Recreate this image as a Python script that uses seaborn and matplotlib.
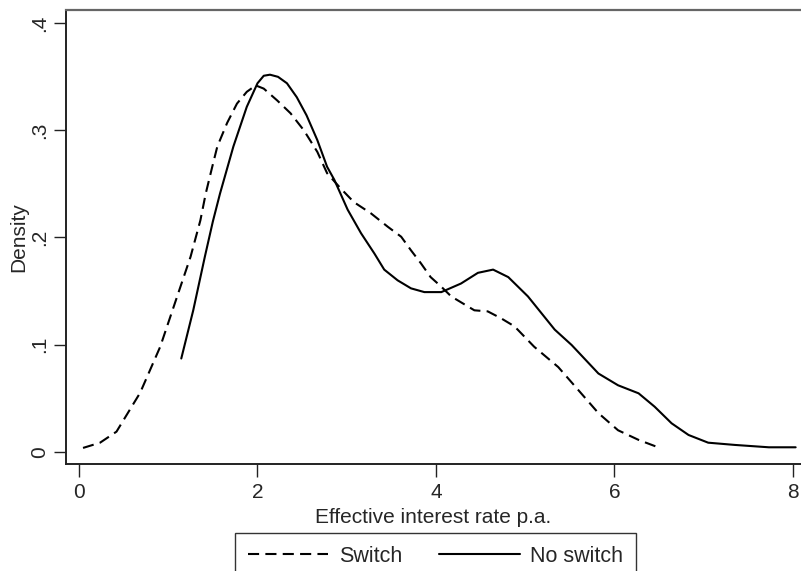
import matplotlib
matplotlib.use("Agg")
import matplotlib.pyplot as plt
import seaborn as sns
import pandas as pd
from matplotlib.lines import Line2D

# ---- data ----
switch_x = [0.045, 0.236, 0.42, 0.685, 0.91, 1.10, 1.25, 1.36, 1.42, 1.49, 1.55, 1.66,
            1.77, 1.88, 1.98, 2.07, 2.22, 2.37, 2.52, 2.67, 2.78, 2.93, 3.08, 3.27,
            3.46, 3.61, 3.72, 3.83, 3.94, 4.06, 4.17, 4.43, 4.58, 4.73, 4.88, 5.10,
            5.37, 5.59, 5.82, 6.04, 6.27, 6.46]
switch_y = [0.0035, 0.0084, 0.0187, 0.055, 0.098, 0.145, 0.182, 0.216, 0.241, 0.265,
            0.285, 0.307, 0.325, 0.336, 0.342, 0.339, 0.328, 0.316, 0.300, 0.280,
            0.260, 0.246, 0.233, 0.2226, 0.210, 0.2007, 0.188, 0.176, 0.163, 0.154,
            0.145, 0.132, 0.131, 0.1245, 0.117, 0.098, 0.079, 0.058, 0.036, 0.020,
            0.011, 0.005]

noswitch_x = [1.146, 1.28, 1.41, 1.50, 1.58, 1.73, 1.88, 2.00, 2.07, 2.14, 2.23, 2.33,
              2.44, 2.55, 2.67, 2.78, 2.86, 3.01, 3.16, 3.31, 3.42, 3.57, 3.72, 3.87,
              4.06, 4.28, 4.47, 4.64, 4.81, 5.03, 5.33, 5.52, 5.82, 6.04, 6.27, 6.45,
              6.64, 6.83, 7.05, 7.35, 7.73, 8.03]
noswitch_y = [0.087, 0.132, 0.182, 0.215, 0.241, 0.285, 0.322, 0.344, 0.351, 0.352,
              0.350, 0.344, 0.331, 0.314, 0.291, 0.266, 0.254, 0.226, 0.204, 0.185,
              0.170, 0.160, 0.1525, 0.149, 0.149, 0.157, 0.167, 0.170, 0.163, 0.145,
              0.114, 0.0996, 0.073, 0.062, 0.0545, 0.042, 0.0265, 0.0156, 0.0084,
              0.0063, 0.0041, 0.0041]

series_labels = ["Switch", "No switch"]
x_ticks = [0, 2, 4, 6, 8]
x_ticklabels = ["0", "2", "4", "6", "8"]
y_ticks = [0, 0.1, 0.2, 0.3, 0.4]
y_ticklabels = ["0", ".1", ".2", ".3", ".4"]
x_label = "Effective interest rate p.a."
y_label = "Density"

sns.set_style("white")
plt.rcParams["font.family"] = ["Liberation Sans", "DejaVu Sans"]
plt.rcParams["lines.scale_dashes"] = False

df_s = pd.DataFrame({"x": switch_x, "y": switch_y})
df_n = pd.DataFrame({"x": noswitch_x, "y": noswitch_y})

fig = plt.figure(figsize=(8.01, 5.71), dpi=100)
ax = fig.add_axes([66 / 801, 1 - 464 / 571, 1 - 66 / 801, (464 - 10) / 571])

dash = (0, (8, 4.5))
sns.lineplot(data=df_s, x="x", y="y", ax=ax, color="black", lw=1.5,
             estimator=None, sort=False)
ax.lines[-1].set_linestyle(dash)
ax.lines[-1].set_solid_joinstyle("round")
sns.lineplot(data=df_n, x="x", y="y", ax=ax, color="black", lw=1.5,
             estimator=None, sort=False)
ax.lines[-1].set_solid_joinstyle("round")

ax.set_xlim(-0.1457, 8.09)
ax.set_ylim(-0.0115, 0.4124)
ax.set_xticks(x_ticks)
ax.set_xticklabels(x_ticklabels)
ax.set_yticks(y_ticks)
ax.set_yticklabels(y_ticklabels, rotation=90, va="center")
ax.tick_params(axis="both", direction="out", length=9, width=1.0, color="#222222",
               labelsize=15, left=True, bottom=True)
ax.tick_params(axis="y", pad=3.5)
ax.tick_params(axis="x", pad=5)
ax.set_xlabel(x_label, fontsize=15, labelpad=4)
ax.set_ylabel(y_label, fontsize=15, labelpad=1)

ax.spines["right"].set_visible(False)
ax.spines["top"].set_color("#666666")
ax.spines["top"].set_linewidth(1.6)
for s in ("left", "bottom"):
    ax.spines[s].set_color("#222222")
    ax.spines[s].set_linewidth(1.4)

handles = [Line2D([], [], color="black", lw=1.5, linestyle=dash),
           Line2D([], [], color="black", lw=1.5)]
leg = fig.legend(handles, series_labels, loc="upper center",
                 bbox_to_anchor=(435.5 / 801, 1 - 533 / 571), ncol=2,
                 fontsize=15.5, frameon=True, fancybox=False, shadow=False,
                 handlelength=3.75, handletextpad=0.5, columnspacing=1.7,
                 borderpad=0.6, borderaxespad=0)
leg.get_frame().set_edgecolor("black")
leg.get_frame().set_linewidth(1.0)

fig.savefig("out.png", dpi=100)
